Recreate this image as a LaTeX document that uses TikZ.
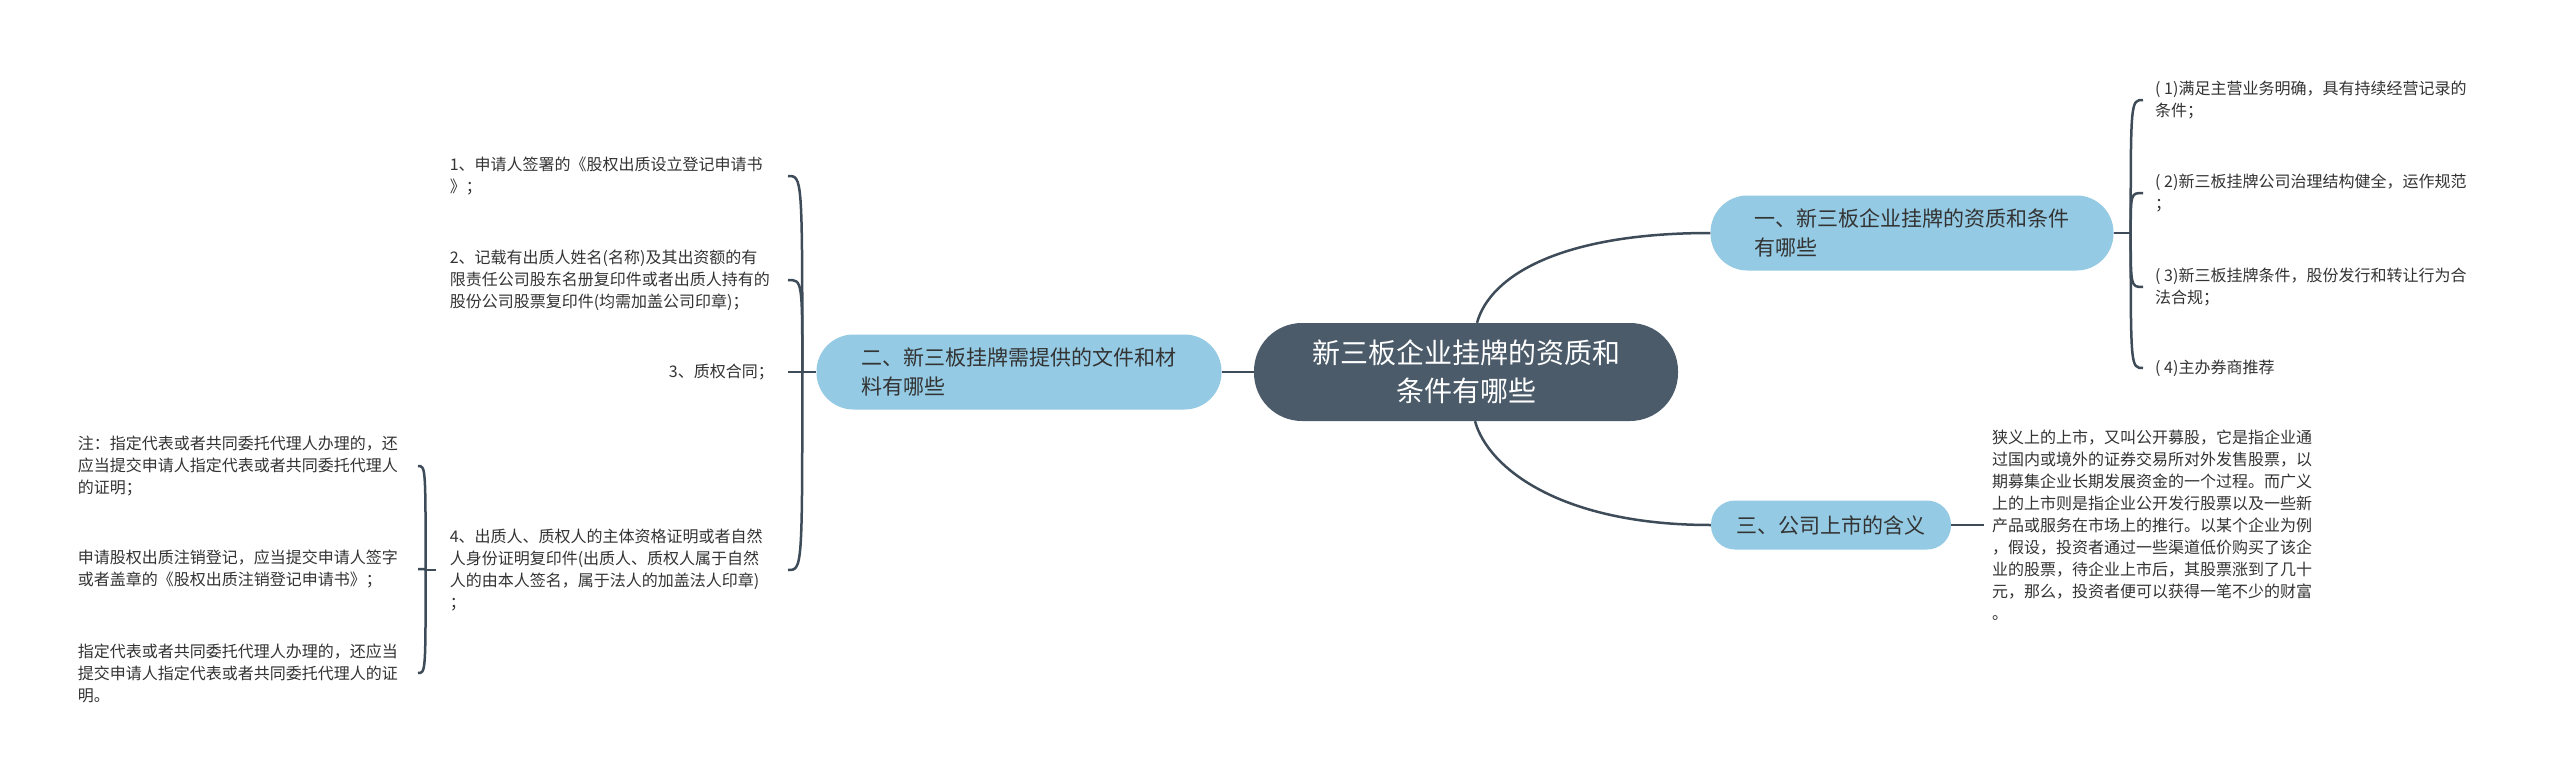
\documentclass[tikz,border=0pt]{standalone}
\usepackage{fontspec}
\setmainfont{Noto Sans CJK SC}
\definecolor{rootfill}{HTML}{4B5B6A}
\definecolor{subfill}{HTML}{94CAE3}
\definecolor{linecol}{HTML}{3E4B59}
\definecolor{txtcol}{HTML}{333333}
\begin{document}
\begin{tikzpicture}[x=1pt,y=-1pt,
root/.style={fill=rootfill,text=white,rounded corners=48pt,minimum width=424pt,minimum height=98pt,align=center,font=\fontsize{28}{38}\selectfont},
sub/.style={fill=subfill,text=txtcol,align=left,font=\fontsize{21}{29}\selectfont},
leaf/.style={text=txtcol,align=left,inner ysep=0pt,inner xsep=12pt,font=\fontsize{16}{22}\selectfont},
link/.style={draw=linecol,line width=2.5pt}]
\fill[white] (0,0) rectangle (2560,784);
\useasboundingbox (0,0) rectangle (2560,784);
\node[root] (root) at (1466,372) {新三板企业挂牌的资质和\\条件有哪些};
\node[sub,minimum width=403pt,minimum height=75pt,rounded corners=37pt] (b1) at (1912,233) {一、新三板企业挂牌的资质和条件\\有哪些};
\node[sub,minimum width=405pt,minimum height=75pt,rounded corners=37pt] (b2) at (1019,372) {二、新三板挂牌需提供的文件和材\\料有哪些};
\node[sub,minimum width=240pt,minimum height=49pt,rounded corners=24pt] (b3) at (1831,525) {三、公司上市的含义};
\node[leaf,anchor=west] (r1) at (2143,100) {( 1)满足主营业务明确，具有持续经营记录的\\条件；};
\node[leaf,anchor=west] (r2) at (2143,193) {( 2)新三板挂牌公司治理结构健全，运作规范\\；};
\node[leaf,anchor=west] (r3) at (2143,287) {( 3)新三板挂牌条件，股份发行和转让行为合\\法合规；};
\node[leaf,anchor=west] (r4) at (2143,368) {( 4)主办券商推荐};
\node[leaf,anchor=east,text width=324pt,inner xsep=14pt] (l1) at (788,176) {1、申请人签署的《股权出质设立登记申请书\\》；};
\node[leaf,anchor=east,text width=324pt,inner xsep=14pt] (l2) at (788,280) {2、记载有出质人姓名(名称)及其出资额的有\\限责任公司股东名册复印件或者出质人持有的\\股份公司股票复印件(均需加盖公司印章)；};
\node[leaf,anchor=east,inner xsep=14pt] (l3) at (788,372) {3、质权合同；};
\node[leaf,anchor=east,text width=324pt,inner xsep=14pt] (l4) at (788,570) {4、出质人、质权人的主体资格证明或者自然\\人身份证明复印件(出质人、质权人属于自然\\人的由本人签名，属于法人的加盖法人印章)\\；};
\node[leaf,anchor=east,text width=324pt,inner xsep=16pt] (m1) at (418,466) {注：指定代表或者共同委托代理人办理的，还\\应当提交申请人指定代表或者共同委托代理人\\的证明；};
\node[leaf,anchor=east,text width=324pt,inner xsep=16pt] (m2) at (418,569) {申请股权出质注销登记，应当提交申请人签字\\或者盖章的《股权出质注销登记申请书》；};
\node[leaf,anchor=east,text width=324pt,inner xsep=16pt] (m3) at (418,673) {指定代表或者共同委托代理人办理的，还应当\\提交申请人指定代表或者共同委托代理人的证\\明。};
\node[leaf,anchor=west,inner xsep=8pt] (t1) at (1984,525) {狭义上的上市，又叫公开募股，它是指企业通\\过国内或境外的证券交易所对外发售股票，以\\期募集企业长期发展资金的一个过程。而广义\\上的上市则是指企业公开发行股票以及一些新\\产品或服务在市场上的推行。以某个企业为例\\，假设，投资者通过一些渠道低价购买了该企\\业的股票，待企业上市后，其股票涨到了几十\\元，那么，投资者便可以获得一笔不少的财富\\。};
\coordinate (j1) at ([xshift=17pt]b1.east);
\coordinate (j2) at ([xshift=-14pt]b2.west);
\coordinate (j3) at ([xshift=-10pt]l4.west);
\draw[link] (root.west) -- (b2.east);
\draw[link] ([xshift=11pt]root.north) .. controls +(13,-47) and +(-150,0) .. (b1.west);
\draw[link] ([xshift=9pt]root.south) .. controls +(13,47) and +(-150,0) .. (b3.west);
\draw[link] (b3.east) -- (t1.west);
\draw[link] (b1.east) -- (j1);
\foreach \i in {1,...,4} \draw[link] (j1) .. controls (j1 |- r\i.west) .. (r\i.west);
\draw[link] (b2.west) -- (j2);
\foreach \i in {1,...,4} \draw[link] (j2) .. controls (j2 |- l\i.east) .. (l\i.east);
\draw[link] (l4.west) -- (j3);
\foreach \i in {1,2,3} \draw[link] (j3) .. controls (j3 |- m\i.east) .. (m\i.east);
\end{tikzpicture}
\end{document}
